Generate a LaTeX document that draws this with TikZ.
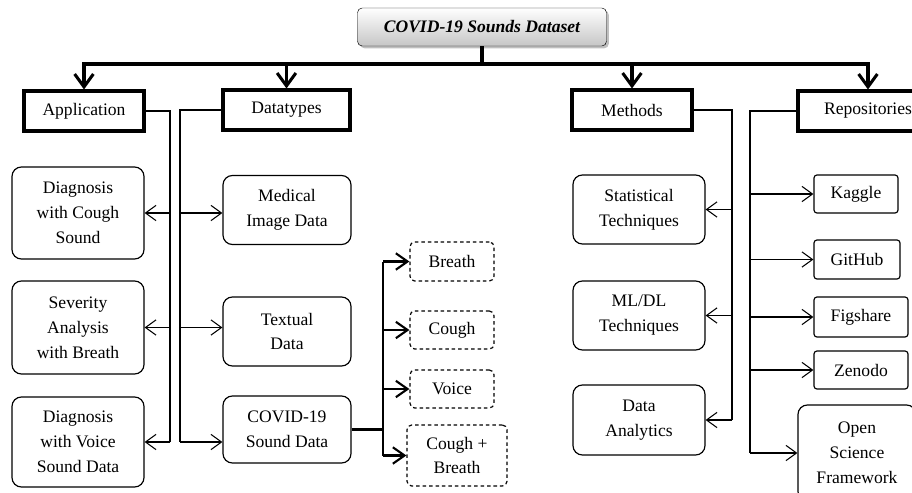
\documentclass[tikz,border=0pt]{standalone}
\usepackage{fontspec}
\setmainfont{Liberation Serif}
\usetikzlibrary{arrows.meta,calc,positioning,shadows}
\tikzset{
dataset/.style={x=0.03cm,y=-0.03cm,font=\fontsize{15}{21.3}\selectfont},
title/.style={draw,rounded corners=4pt,top color=white,bottom color=gray!45,
drop shadow={opacity=0.5,shadow xshift=2pt,shadow yshift=-2pt},
font=\fontsize{15}{18}\selectfont\bfseries\itshape,
minimum width=7.47cm,minimum height=1.14cm},
head/.style={draw,line width=2.6pt,minimum height=1.2cm},
leaf/.style={draw,line width=1pt,rounded corners=8pt,align=center},
repobox/.style={draw,line width=1pt,rounded corners=2.5pt,align=center},
sound/.style={draw,line width=1pt,dash pattern=on 3pt off 2.5pt,rounded corners=4pt,align=center},
busline/.style={line width=2.6pt,-{Straight Barb[length=11pt,width=16pt]}},
conn/.style={line width=0.9pt},
tip/.style={-{Straight Barb[length=9pt,width=13pt]}},
soundline/.style={line width=1.8pt},
soundtip/.style={-{Straight Barb[length=10pt,width=14pt]}},
}
\begin{document}
\begin{tikzpicture}[dataset]
\useasboundingbox (0,0) rectangle (912,492);
\node[title] (ds) at (482,27) {COVID-19 Sounds Dataset};

\node[head,minimum width=3.6cm] (app) at (84,111) {Application};
\node[head,minimum width=3.81cm] (dtype) at (286.5,110) {Datatypes};
\node[head,minimum width=3.6cm] (meth) at (632,110) {Methods};
\node[head,minimum width=4.2cm] (repo) at (868,111) {Repositories};

\node[leaf,minimum width=3.96cm,minimum height=2.76cm] (dcough) at (78,213) {Diagnosis\\with Cough\\Sound};
\node[leaf,minimum width=3.96cm,minimum height=2.79cm] (sev) at (78,327.5) {Severity\\Analysis\\with Breath};
\node[leaf,minimum width=3.96cm,minimum height=2.7cm] (dvoice) at (78,442) {Diagnosis\\with Voice\\Sound Data};

\node[leaf,minimum width=3.84cm,minimum height=2.07cm] (medimg) at (287,210) {Medical\\Image Data};
\node[leaf,minimum width=3.84cm,minimum height=2.07cm] (textual) at (287,331.5) {Textual\\Data};
\node[leaf,minimum width=3.84cm,minimum height=2.01cm] (covid) at (287,429.5) {COVID-19\\Sound Data};

\node[sound,minimum width=2.52cm,minimum height=1.17cm] (breath) at (452,261.5) {Breath};
\node[sound,minimum width=2.52cm,minimum height=1.14cm] (cough) at (452,330) {Cough};
\node[sound,minimum width=2.52cm,minimum height=1.14cm] (voice) at (452,389) {Voice};
\node[sound,minimum width=3cm,minimum height=1.83cm] (cbreath) at (457,455.5) {Cough +\\Breath};

\node[leaf,minimum width=3.96cm,minimum height=2.07cm] (stat) at (639,209.5) {Statistical\\Techniques};
\node[leaf,minimum width=3.96cm,minimum height=2.07cm] (mldl) at (639,315.5) {ML/DL\\Techniques};
\node[leaf,minimum width=3.96cm,minimum height=2.1cm] (analytics) at (639,420) {Data\\Analytics};

\node[repobox,minimum width=2.52cm,minimum height=1.14cm] (kaggle) at (856,194) {Kaggle};
\node[repobox,minimum width=2.58cm,minimum height=1.17cm] (github) at (857,259.5) {GitHub};
\node[repobox,minimum width=2.82cm,minimum height=1.2cm] (figshare) at (861,317) {Figshare};
\node[repobox,minimum width=2.82cm,minimum height=1.14cm] (zenodo) at (861,370) {Zenodo};
\node[leaf,minimum width=3.54cm,minimum height=2.88cm] (osf) at (857,453) {Open\\Science\\Framework};

% top bus
\coordinate (bus) at (482,64);
\draw[line width=2.6pt] (ds) -- (bus);
\foreach \h in {app,dtype,meth,repo}
  \draw[busline] (bus) -| (\h);

\coordinate (appbus) at (170,0);
\coordinate (dtbus) at (180,0);
\coordinate (cvbus) at (383,0);
\coordinate (mbus) at (732,0);
\coordinate (rbus) at (750,0);

\draw[conn] (app.east) -| (appbus |- dvoice);
\foreach \n in {dcough,sev,dvoice}
  \draw[conn,tip] (appbus |- \n) -- (\n);

\draw[conn] (dtype.west) -| (dtbus |- dvoice);
\foreach \n/\m in {dcough/medimg,sev/textual,dvoice/covid}
  \draw[conn,tip] (dtbus |- \n) -- (\m.west |- \n);

\draw[soundline] (covid.east) -- (covid.east -| cvbus);
\draw[soundline] (cvbus |- breath) -- (cvbus |- cbreath);
\foreach \n in {breath,cough,voice,cbreath}
  \draw[soundline,soundtip] (cvbus |- \n) -- (\n);

\draw[conn] (meth.east) -| (mbus |- analytics);
\foreach \n in {stat,mldl,analytics}
  \draw[conn,tip] (mbus |- \n) -- (\n);

\draw[conn] (repo.west) -| (rbus |- osf);
\foreach \n in {kaggle,github,figshare,zenodo,osf}
  \draw[conn,tip] (rbus |- \n) -- (\n);
\end{tikzpicture}
\end{document}
